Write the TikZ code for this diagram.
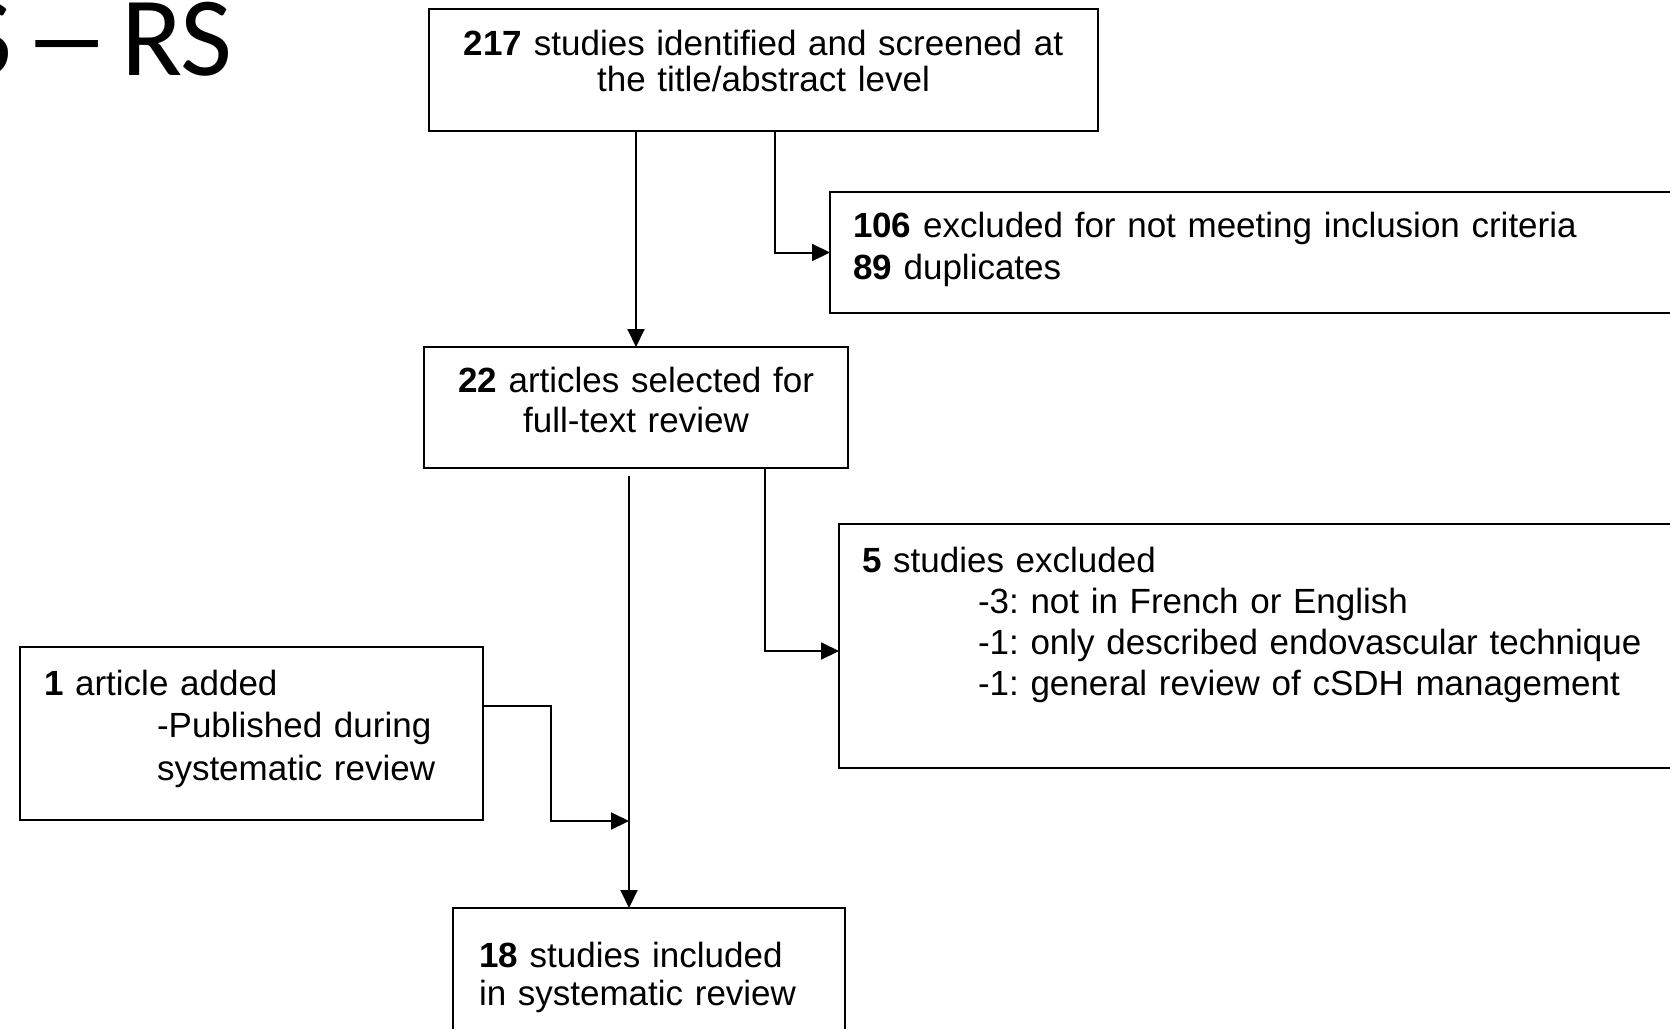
\documentclass[tikz,border=0pt]{standalone}
\usepackage{fontspec}
\usepackage{graphicx}
\setmainfont{Liberation Sans}
\newfontfamily\titlefont{Carlito}
\usetikzlibrary{arrows.meta, positioning}
\frenchspacing

\begin{document}
\begin{tikzpicture}[
    x=1pt, y=-1pt,
    box/.style={rectangle, draw=black, line width=2.2pt, inner xsep=10pt, inner ysep=0pt, outer sep=0pt,
                align=center, font=\fontsize{35}{38}\selectfont},
    sidebox/.style={box, align=left, inner xsep=23pt, text width=954pt},
    arrow/.style={-{Triangle[length=18pt, width=17pt]}, line width=2pt}
]
\useasboundingbox (0,0) rectangle (1670,1028);
\clip (0,0) rectangle (1670,1028);

% Title (cut off on the left)
\node[anchor=base east, inner sep=0pt, font=\titlefont\fontsize{113}{113}\selectfont] (title) at (233,75)
    {S \kern-15pt\scalebox{1.55}[1]{–}\kern-15pt{} RS};

% Screening
\node[box, anchor=north west, text width=649pt, text height=46pt, text depth=76pt,
      font=\fontsize{35}{36.5}\selectfont] (top) at (429,9)
    {\textbf{217} studies identified and screened at\\the title/abstract level};
\node[sidebox, below right=61pt and -268pt of top.south east, text height=45pt, text depth=76pt,
      font=\fontsize{35}{42}\selectfont] (excl1)
    {\textbf{106} excluded for not meeting inclusion criteria\\\textbf{89} duplicates};

% Full text
\node[box, below right=216pt and -5pt of top.south west, text width=404pt, text height=45pt, text depth=76pt,
      font=\fontsize{35}{40}\selectfont] (full)
    {\textbf{22} articles selected for\\full-text review};
\node[sidebox, below right=56pt and -9pt of full.south east, text height=48pt, text depth=196pt,
      font=\fontsize{35}{41}\selectfont] (excl2)
    {\textbf{5} studies excluded\\
     \hspace*{116pt}-3: not in French or English\\
     \hspace*{116pt}-1: only described endovascular technique\\
     \hspace*{116pt}-1: general review of cSDH management};

% Added and included
\node[box, align=left, inner xsep=24pt, text width=415pt, below left=179pt and -59pt of full.south west,
      text height=48pt, text depth=125pt, font=\fontsize{35}{42.5}\selectfont] (added)
    {\textbf{1} article added\\
     \hspace*{113pt}-Published during\\
     \hspace*{113pt}systematic review};
\node[box, align=left, inner xsep=26pt, text width=340pt, below right=440pt and 29pt of full.south west,
      text height=59pt, text depth=150pt, font=\fontsize{35}{38}\selectfont] (incl)
    {\textbf{18} studies included\\in systematic review};

\coordinate (split) at ([xshift=-7pt, yshift=-8pt]full.south);
\coordinate (merge) at ([yshift=-345pt]split);

% Arrows
\draw[arrow] (top.south -| full.north) -- (full.north);
\draw[arrow] ([xshift=11pt]top.south) |- (excl1.west);
\draw[arrow] ([xshift=129pt]full.south) |- ([yshift=-5pt]excl2.west);
\draw[arrow] (split) -- (split |- incl.north);
\draw[arrow] ([yshift=28pt]added.east) -| ([xshift=-78pt]merge) -- (merge);

\end{tikzpicture}
\end{document}
